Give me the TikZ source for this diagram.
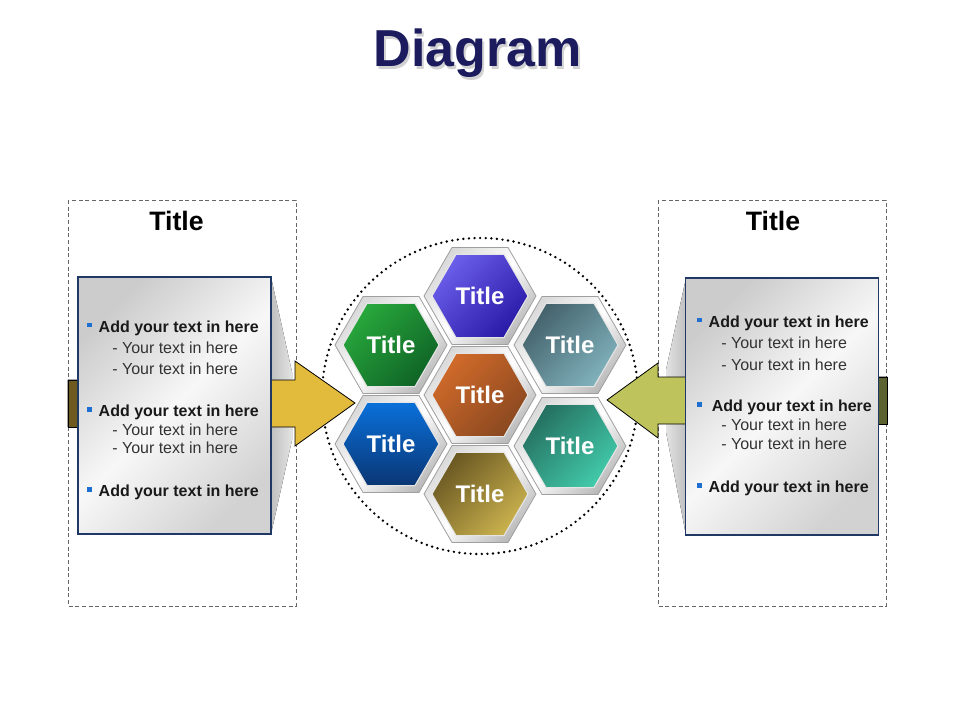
\documentclass[tikz,border=0pt]{standalone}
\usepackage{fontspec}
\setmainfont{Liberation Sans}
\usetikzlibrary{shapes.geometric}
\definecolor{navytitle}{HTML}{1B1B5E}
\definecolor{panelline}{HTML}{1F3864}
\definecolor{bulletblue}{HTML}{1F6FD0}
\definecolor{goldarrow}{HTML}{E2BA3C}
\definecolor{goldtail}{HTML}{6E5A1E}
\definecolor{limearrow}{HTML}{BEC35C}
\definecolor{limetail}{HTML}{5D6231}
\definecolor{purpleA}{HTML}{6A5EEA}
\definecolor{purpleB}{HTML}{2A1AA8}
\definecolor{orangeA}{HTML}{D06A2A}
\definecolor{orangeB}{HTML}{8A4820}
\definecolor{oliveA}{HTML}{6A5822}
\definecolor{oliveB}{HTML}{CAB24E}
\definecolor{greenA}{HTML}{28A83C}
\definecolor{greenB}{HTML}{0F6426}
\definecolor{blueA}{HTML}{0A70DA}
\definecolor{blueB}{HTML}{0A3674}
\definecolor{slateA}{HTML}{44626C}
\definecolor{slateB}{HTML}{80B2BC}
\definecolor{tealA}{HTML}{257060}
\definecolor{tealB}{HTML}{42CAAA}
\newcommand{\sqbul}{\textcolor{bulletblue}{\rule[3.9pt]{3.4pt}{3.4pt}}}
\begin{document}
\begin{tikzpicture}[x=0.75pt,y=-0.75pt,
  dashbox/.style={draw=gray!80!black,dash pattern=on 3pt off 2pt,line width=0.6pt},
  panelbox/.style={draw=panelline,line width=0.8pt,inner sep=0pt,minimum width=144.75pt,minimum height=192.75pt,top color=gray!40,bottom color=gray!35,middle color=gray!6,shading angle=45},
  hexframe/.style={regular polygon,regular polygon sides=6,minimum size=84pt,inner sep=0pt,draw=gray!75,line width=0.6pt,top color=gray!30,bottom color=gray!55,middle color=white,shading angle=45},
  hexcell/.style 2 args={regular polygon,regular polygon sides=6,minimum size=72pt,inner sep=0pt,draw=white!80!gray,line width=0.8pt,top color=#1,bottom color=#2,shading angle=45,text=white,font=\fontsize{18}{20}\selectfont\bfseries},
  boxtitle/.style={anchor=base,inner sep=0pt,font=\fontsize{20}{24}\selectfont\bfseries},
  bodyb/.style={anchor=base west,inner sep=0pt,text=black!90,font=\fontsize{12}{14}\selectfont\bfseries},
  body/.style={anchor=base west,inner sep=0pt,text=black!80,font=\fontsize{12}{14}\selectfont}]
\useasboundingbox (0,0) rectangle (960,720);
\node[anchor=base,inner sep=0pt,text=gray!35,font=\fontsize{39}{44}\selectfont\bfseries] (shadowtitle) at (480,69.2) {Diagram};
\node[anchor=base,inner sep=0pt,text=navytitle,font=\fontsize{39}{44}\selectfont\bfseries] (maintitle) at (477.5,66.7) {Diagram};
\draw[dashbox] (68,200) rectangle (296,606);
\draw[dashbox] (658,200) rectangle (886,606);
\node[boxtitle] (ltitle) at (176.5,230.7) {Title};
\node[boxtitle] (rtitle) at (773,230.7) {Title};
\draw[black,line width=2pt,dash pattern=on 0pt off 4.2pt,line cap=round] (480,396) circle (158);
\fill[left color=gray!50,right color=gray!22] (271,277) -- (292,372) -- (292,440) -- (271,534) -- cycle;
\fill[right color=gray!50,left color=gray!22] (686,278) -- (666,370) -- (666,432) -- (686,535) -- cycle;
\draw[fill=goldarrow,line width=0.6pt] (68,380) -- (295,380) -- (295,361) -- (355,403) -- (295,446) -- (295,427) -- (68,427) -- cycle;
\draw[fill=goldtail,line width=0.6pt] (68,380) rectangle (80,427);
\draw[fill=limearrow,line width=0.6pt] (887,377) -- (658,377) -- (658,363) -- (607,400) -- (658,438) -- (658,424) -- (887,424) -- cycle;
\draw[fill=limetail,line width=0.6pt] (875,377) rectangle (887,424);
\node[panelbox] (lpanel) at (174.5,405.5) {};
\node[panelbox] (rpanel) at (782,406.5) {};
\node[bodyb] (lb1) at (87,332.3) {\sqbul\hspace{5.2pt}Add your text in here};
\node[body] (lb1a) at (112,353.3) {- Your text in here};
\node[body] (lb1b) at (112,374.3) {- Your text in here};
\node[bodyb] (lb2) at (87,416.7) {\sqbul\hspace{5.2pt}Add your text in here};
\node[body] (lb2a) at (112,435) {- Your text in here};
\node[body] (lb2b) at (112,453.3) {- Your text in here};
\node[bodyb] (lb3) at (87,496.7) {\sqbul\hspace{5.2pt}Add your text in here};
\node[bodyb] (rb1) at (697,327.3) {\sqbul\hspace{5.2pt}Add your text in here};
\node[body] (rb1a) at (721,348.3) {- Your text in here};
\node[body] (rb1b) at (721,370) {- Your text in here};
\node[bodyb] (rb2) at (697,411.7) {\sqbul\hspace{7.5pt}Add your text in here};
\node[body] (rb2a) at (721,430) {- Your text in here};
\node[body] (rb2b) at (721,449) {- Your text in here};
\node[bodyb] (rb3) at (697,492.7) {\sqbul\hspace{5.2pt}Add your text in here};
\node[hexframe] (fTop) at (480,296) {};
\node[hexframe] (fMid) at (480,395) {};
\node[hexframe] (fBot) at (480,494) {};
\node[hexframe] (fLT) at (391,345) {};
\node[hexframe] (fLB) at (391,444) {};
\node[hexframe] (fRT) at (570,345) {};
\node[hexframe] (fRB) at (570,446) {};
\node[hexcell={purpleA}{purpleB}] (hexTop) at (480,296) {Title};
\node[hexcell={orangeA}{orangeB}] (hexMid) at (480,395) {Title};
\node[hexcell={oliveA}{oliveB}] (hexBot) at (480,494) {Title};
\node[hexcell={greenA}{greenB}] (hexLT) at (391,345) {Title};
\node[hexcell={blueA}{blueB},shading angle=0] (hexLB) at (391,444) {Title};
\node[hexcell={slateA}{slateB}] (hexRT) at (570,345) {Title};
\node[hexcell={tealA}{tealB}] (hexRB) at (570,446) {Title};
\end{tikzpicture}
\end{document}
